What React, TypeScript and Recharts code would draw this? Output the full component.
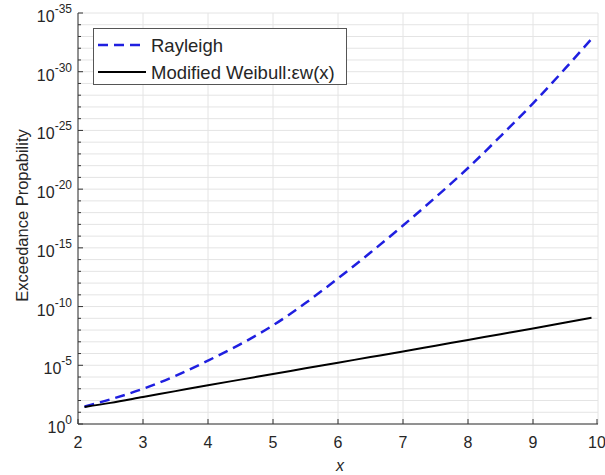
import React from "react";
import {
  LineChart,
  Line,
  XAxis,
  YAxis,
  CartesianGrid,
} from "recharts";

// exponent k means 10^-k
const X_VALUES = [2.1, 2.5, 3, 3.5, 4, 4.5, 5, 5.5, 6, 6.5, 7, 7.5, 8, 8.5, 9, 9.5, 9.9];
const RAYLEIGH_EXP = [1.48, 2.1, 3.0, 4.1, 5.4, 6.8, 8.4, 10.3, 12.4, 14.6, 16.9, 19.3, 21.8, 24.5, 27.3, 30.3, 32.8];
const WEIBULL_EXP = [1.45, 1.8, 2.3, 2.8, 3.3, 3.78, 4.26, 4.74, 5.22, 5.7, 6.18, 6.67, 7.16, 7.65, 8.14, 8.64, 9.05];

const X_TICKS = [2, 3, 4, 5, 6, 7, 8, 9, 10];
const Y_TICKS = Array.from({ length: 36 }, (_, i) => i);

const data = X_VALUES.map((x, i) => ({
  x,
  rayleigh: RAYLEIGH_EXP[i],
  weibull: WEIBULL_EXP[i],
}));

const FONT = "'Liberation Sans', Arial, Helvetica, sans-serif";
const AXIS = "#333";
const TEXT = "#262626";
const BLUE = "#1f1fe0";

// ─── ticks (MATLAB style: inward marks) ─────────────────

function LeftTick({ x, y, payload }: any) {
  const v = payload.value as number;
  const major = v % 5 === 0;
  return (
    <g>
      <line x1={x} x2={x + (major ? 5 : 3)} y1={y} y2={y} stroke={AXIS} />
      {major && (
        <text x={x - 6} y={y + 9} textAnchor="end" fontSize={16} fill={TEXT} fontFamily={FONT}>
          10
          <tspan dy={-9} fontSize={12}>{v === 0 ? "0" : `-${v}`}</tspan>
        </text>
      )}
    </g>
  );
}

function RightTick({ x, y, payload }: any) {
  const major = (payload.value as number) % 5 === 0;
  return <line x1={x} x2={x - (major ? 5 : 3)} y1={y} y2={y} stroke={AXIS} />;
}

function BottomTick({ x, y, payload }: any) {
  return (
    <g>
      <line x1={x} x2={x} y1={y} y2={y - 5} stroke={AXIS} />
      <text x={x} y={y + 24} textAnchor="middle" fontSize={16} fill={TEXT} fontFamily={FONT}>
        {payload.value}
      </text>
    </g>
  );
}

function TopTick({ x, y }: any) {
  return <line x1={x} x2={x} y1={y} y2={y + 5} stroke={AXIS} />;
}

// ─── legend box (overlay, so the chart keeps its full plot height) ───

function LegendBox() {
  return (
    <div
      style={{
        position: "absolute",
        left: 93,
        top: 28,
        width: 254,
        height: 57,
        border: "1px solid #555",
        background: "#fff",
        boxSizing: "border-box",
      }}
    >
      <svg width={252} height={55} style={{ display: "block" }}>
        <line x1={4} x2={52} y1={16} y2={16} stroke={BLUE} strokeWidth={2.5} strokeDasharray="10 6" />
        <text x={57} y={23} fontSize={18.5} fill={TEXT} fontFamily={FONT}>Rayleigh</text>
        <line x1={4} x2={52} y1={43} y2={43} stroke="#000" strokeWidth={2} />
        <text x={57} y={50} fontSize={18.5} fill={TEXT} fontFamily={FONT}>Modified Weibull:εw(x)</text>
      </svg>
    </div>
  );
}

export default function App() {
  return (
    <div style={{ position: "absolute", left: 0, top: 0, width: 605, height: 475, background: "#fff" }}>
      <LineChart
        width={605}
        height={475}
        data={data}
        margin={{ top: 13, right: 7, left: 0, bottom: 0 }}
      >
        <CartesianGrid stroke="#e4e4e4" />
        <XAxis
          dataKey="x"
          type="number"
          domain={[2, 10]}
          ticks={X_TICKS}
          height={51}
          tickSize={0}
          tickMargin={0}
          stroke={AXIS}
          tick={<BottomTick />}
          label={{
            content: ({ viewBox }: any) => (
              <text
                x={viewBox.x + viewBox.width / 2 + 2}
                y={viewBox.y + 47}
                textAnchor="middle"
                fontSize={16}
                fontStyle="italic"
                fill={TEXT}
                fontFamily={FONT}
              >
                x
              </text>
            ),
          }}
        />
        <XAxis
          xAxisId="top"
          orientation="top"
          dataKey="x"
          type="number"
          domain={[2, 10]}
          ticks={X_TICKS}
          height={0}
          tickSize={0}
          tickMargin={0}
          stroke={AXIS}
          tick={<TopTick />}
        />
        <YAxis
          type="number"
          domain={[0, 35]}
          ticks={Y_TICKS}
          interval={0}
          width={78}
          tickSize={0}
          tickMargin={0}
          stroke={AXIS}
          tick={<LeftTick />}
          label={{
            content: ({ viewBox }: any) => {
              const cy = viewBox.y + viewBox.height / 2 - 3;
              return (
                <text
                  x={22}
                  y={cy}
                  transform={`rotate(-90, 22, ${cy})`}
                  textAnchor="middle"
                  dominantBaseline="central"
                  fontSize={16.5}
                  fill={TEXT}
                  fontFamily={FONT}
                >
                  Exceedance Propability
                </text>
              );
            },
          }}
        />
        <YAxis
          yAxisId="right"
          orientation="right"
          type="number"
          domain={[0, 35]}
          ticks={Y_TICKS}
          interval={0}
          width={0}
          tickSize={0}
          tickMargin={0}
          stroke={AXIS}
          tick={<RightTick />}
        />
        <Line
          dataKey="rayleigh"
          name="Rayleigh"
          stroke={BLUE}
          strokeWidth={2.5}
          strokeDasharray="10 6"
          dot={false}
          type="monotone"
          isAnimationActive={false}
        />
        <Line
          dataKey="weibull"
          name="Modified Weibull:εw(x)"
          stroke="#000"
          strokeWidth={2}
          dot={false}
          type="monotone"
          isAnimationActive={false}
        />
      </LineChart>
      <LegendBox />
    </div>
  );
}
